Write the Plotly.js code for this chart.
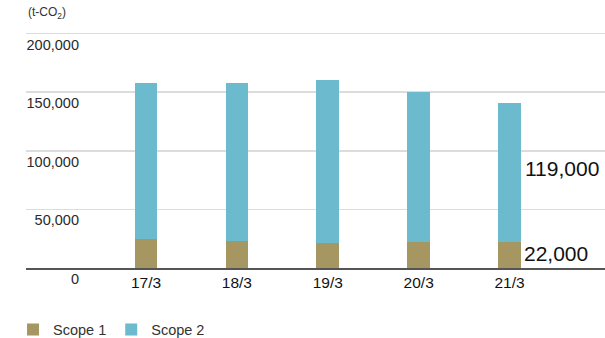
<!DOCTYPE html>
<html><head><meta charset="utf-8">
<script src="https://cdn.plot.ly/plotly-3.0.1.min.js"></script>
<style>html,body{margin:0;padding:0;background:#fff}#chart{width:605px;height:338px}</style>
</head><body><div id="chart"></div>
<script>
const categories = ['17/3', '18/3', '19/3', '20/3', '21/3'];
const scope1 = [24500, 22800, 21500, 21800, 22000];
const scope2 = [133500, 135200, 139000, 128200, 119000];
const yTicks = [0, 50000, 100000, 150000, 200000];
const unitLabel = '(t-CO<sub>2</sub>)';

const FONT = '"Liberation Sans", Arial, Helvetica, sans-serif';
const fmt = v => v.toLocaleString('en-US');
const last = categories.length - 1;

const traces = [
  {type: 'bar', name: 'Scope 1', x: categories, y: scope1, marker: {color: '#a69662'}, width: 0.25, hoverinfo: 'skip'},
  {type: 'bar', name: 'Scope 2', x: categories, y: scope2, marker: {color: '#6bbacd'}, width: 0.25, hoverinfo: 'skip'},
  {type: 'scatter', mode: 'none', x: [categories[0]], y: [0], yaxis: 'y2', showlegend: false, hoverinfo: 'skip'}
];

const layout = {
  width: 605, height: 338,
  margin: {l: 26, r: 0, t: 30, b: 70, autoexpand: false},
  paper_bgcolor: '#fff', plot_bgcolor: '#fff',
  font: {family: FONT, size: 14, color: '#222'},
  barmode: 'stack',
  showlegend: true,
  legend: {orientation: 'h', xref: 'container', yref: 'paper', x: 0.0215, y: -0.192, xanchor: 'left', yanchor: 'top',
           font: {family: FONT, size: 14.5, color: '#333'}, traceorder: 'normal', itemwidth: 30},
  xaxis: {type: 'category', range: [-1.32, 5.05], showgrid: false, showline: true, linecolor: '#555', linewidth: 1.5,
          ticks: '', tickfont: {family: FONT, size: 15.5, color: '#111'}, fixedrange: true},
  yaxis: {range: [0, 203000], tickvals: yTicks, showticklabels: false, showgrid: true, gridcolor: '#dcdcdc', gridwidth: 1.5,
          zeroline: false, showline: false, ticks: '', fixedrange: true},
  yaxis2: {range: [0, 203000], overlaying: 'y', anchor: 'free', position: 0.0915, side: 'left',
           tickvals: yTicks, ticktext: yTicks.map(fmt), showgrid: false, zeroline: false, showline: false, ticks: '',
           ticklabelshift: 11, tickfont: {family: FONT, size: 14.5, color: '#2a2a2a'}, fixedrange: true},
  annotations: [
    {xref: 'paper', yref: 'paper', x: 0, y: 1, xanchor: 'left', yanchor: 'bottom', yshift: 7, text: unitLabel, showarrow: false,
     font: {family: FONT, size: 12, color: '#333'}},
    {xref: 'x', yref: 'y', x: categories[last], y: scope1[last] + scope2[last] / 2, xanchor: 'left', yanchor: 'middle',
     xshift: 13, yshift: 4, text: fmt(scope2[last]), showarrow: false, font: {family: FONT, size: 21, color: '#111'}},
    {xref: 'x', yref: 'y', x: categories[last], y: scope1[last] / 2, xanchor: 'left', yanchor: 'middle',
     xshift: 12, yshift: 2, text: fmt(scope1[last]), showarrow: false, font: {family: FONT, size: 21, color: '#111'}}
  ]
};

Plotly.newPlot('chart', traces, layout, {staticPlot: true, displayModeBar: false});
</script></body></html>
